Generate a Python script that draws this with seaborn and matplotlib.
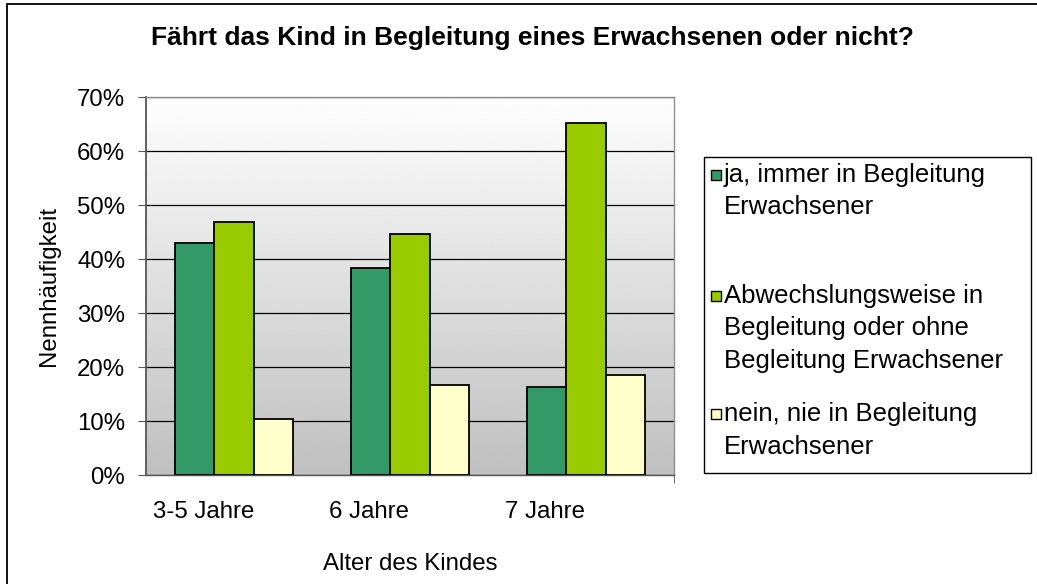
import numpy as np
import pandas as pd
import seaborn as sns
import matplotlib.pyplot as plt
import matplotlib.transforms as mtransforms
from matplotlib.patches import Rectangle

# data (percent)
ages = ['3-5 Jahre', '6 Jahre', '7 Jahre']
answers = ['ja, immer in Begleitung Erwachsener',
           'Abwechslungsweise in Begleitung oder ohne Begleitung Erwachsener',
           'nein, nie in Begleitung Erwachsener']
ja_immer = [42.9, 38.4, 16.3]
abwechselnd = [46.9, 44.7, 65.1]
nein_nie = [10.4, 16.6, 18.5]
legend_lines = [['ja, immer in Begleitung', 'Erwachsener'],
                ['Abwechslungsweise in', 'Begleitung oder ohne', 'Begleitung Erwachsener'],
                ['nein, nie in Begleitung', 'Erwachsener']]
colors = ['#339966', '#99cc00', '#ffffcc']

rows = []
for ans, vals in zip(answers, [ja_immer, abwechselnd, nein_nie]):
    for age, v in zip(ages, vals):
        rows.append({'Alter': age, 'Antwort': ans, 'Wert': v})
data = pd.DataFrame(rows)

sns.set_style('white')
plt.rcParams['font.family'] = ['Liberation Sans', 'DejaVu Sans']
plt.rcParams['text.color'] = 'black'
plt.rcParams['axes.labelcolor'] = 'black'
plt.rcParams['xtick.color'] = 'black'
plt.rcParams['ytick.color'] = 'black'

fig = plt.figure(figsize=(10.37, 5.84), dpi=100)
W, H = 1037, 584
ax = fig.add_axes([146 / W, 1 - 475 / H, 528 / W, 378 / H])

# grey gradient background of the plot area
grad = np.linspace(0.75, 0.995, 256).reshape(-1, 1)
ax.imshow(grad, cmap='gray', vmin=0, vmax=1, aspect='auto', origin='lower',
          extent=[0, 1, 0, 1], transform=ax.transAxes, zorder=0)

sns.barplot(data=data, x='Alter', y='Wert', hue='Antwort', palette=colors,
            width=0.67, gap=0, edgecolor='black', linewidth=1.3,
            saturation=1, legend=False, ax=ax, zorder=3)

ax.set_xlim(-0.5, 2.5)
ax.set_ylim(0, 70)
ax.set_yticks(range(0, 71, 10))
ax.set_yticklabels([f'{t}%' for t in range(0, 71, 10)], fontsize=17.3)
ax.yaxis.grid(True, color='black', linewidth=0.9)
ax.set_axisbelow(True)
for l in ax.get_ygridlines():
    l.set_zorder(1)

# category boundary ticks, labels left aligned next to them
ax.set_xticks([-0.5, 0.5, 1.5, 2.5], minor=True)
ax.set_xticks([-0.5, 0.5, 1.5])
ax.set_xticklabels(ages, fontsize=17.3, ha='left')
ax.tick_params(axis='x', which='major', length=0, pad=19)
ax.tick_params(axis='x', which='minor', direction='out', length=6, color='#555555', bottom=True)
ax.tick_params(axis='y', direction='out', length=6, color='#555555', pad=9, left=True)
for lab in ax.get_xticklabels():
    lab.set_transform(lab.get_transform() + mtransforms.ScaledTranslation(0.07, 0, fig.dpi_scale_trans))

ax.set_xlabel('Alter des Kindes', fontsize=17.3, labelpad=21)
ax.set_ylabel('Nennhäufigkeit', fontsize=17.3)
ax.yaxis.set_label_coords(-0.163, 0.5)

for side in ['top', 'right', 'bottom']:
    ax.spines[side].set_color('#909090')
    ax.spines[side].set_linewidth(1)
ax.spines['left'].set_color('#555555')
ax.spines['left'].set_linewidth(1.3)
ax.spines['bottom'].set_color('#555555')

fig.text(532 / W, 1 - 38 / H, 'Fährt das Kind in Begleitung eines Erwachsenen oder nicht?',
         fontsize=19, fontweight='bold', ha='center', va='center')

# legend box drawn by hand to get Excel's spacing
fig.patches.append(Rectangle((704 / W, 1 - 473 / H), (1031 - 704) / W, (473 - 157) / H,
                             transform=fig.transFigure, fill=False, edgecolor='black', linewidth=1))
first_line_y = [175, 296, 414]
for color, lines, y0 in zip(colors, legend_lines, first_line_y):
    fig.patches.append(Rectangle((711 / W, 1 - (y0 + 5) / H), 10 / W, 10 / H,
                                 transform=fig.transFigure, facecolor=color,
                                 edgecolor='black', linewidth=1))
    for i, line in enumerate(lines):
        fig.text(724 / W, 1 - (y0 + 32.5 * i) / H, line, fontsize=18.5, ha='left', va='center')

# outer chart border
fig.patches.append(Rectangle((6.5 / W, -0.1), 1.2, 1 - 3.5 / H + 0.1,
                             transform=fig.transFigure, fill=False, edgecolor='black', linewidth=1.3))

fig.savefig('out.png', dpi=100)
